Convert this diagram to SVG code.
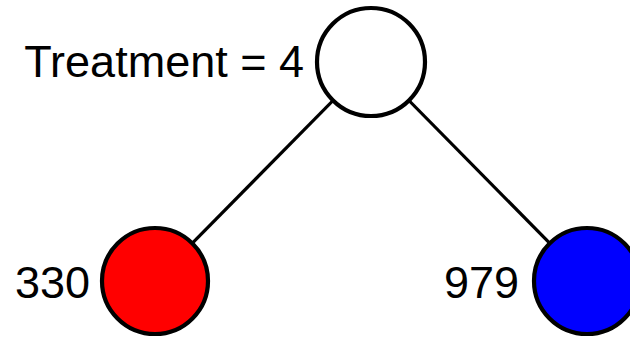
<svg xmlns="http://www.w3.org/2000/svg" width="630" height="338" viewBox="0 0 630 338">
  <style>
    .edge { stroke: #000; stroke-width: 3.2; fill: none; }
    .node { stroke: #000; stroke-width: 4.2; }
    .label { font-family: "Liberation Sans", Arial, sans-serif; font-size: 45px; fill: #000; text-anchor: end; }
  </style>
  <rect width="630" height="338" fill="#fff"/>
  <g id="connectors">
    <line class="edge" x1="371" y1="62" x2="155" y2="281"/>
    <line class="edge" x1="371" y1="62" x2="587" y2="281"/>
  </g>
  <g id="root">
    <circle class="node" cx="371" cy="62" r="54" fill="#fff"/>
    <text class="label" x="304" y="77">Treatment = 4</text>
  </g>
  <g id="leaf-left">
    <circle class="node" cx="155" cy="281" r="53" fill="#f00"/>
    <text class="label" x="90" y="298">330</text>
  </g>
  <g id="leaf-right">
    <circle class="node" cx="587" cy="281" r="53" fill="#00f"/>
    <text class="label" x="519" y="298">979</text>
  </g>
</svg>
